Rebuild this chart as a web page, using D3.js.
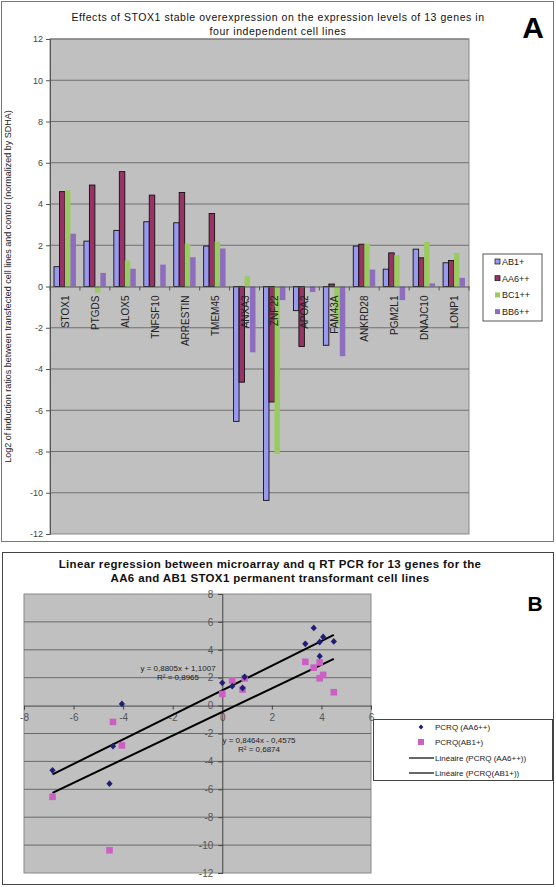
<!DOCTYPE html>
<html><head><meta charset="utf-8">
<script src="https://cdn.jsdelivr.net/npm/d3@7"></script>
<style>
html,body{margin:0;padding:0;background:#fff;}
svg{display:block;font-family:Arial,"Liberation Sans",sans-serif;}
</style></head>
<body>
<svg id="c" width="556" height="887"></svg>
<script>
// ---------- DATA ----------
const categories = ["STOX1","PTGDS","ALOX5","TNFSF10","ARRESTIN","TMEM45","ANXA3","ZNF22","APOA2","FAM43A","ANKRD28","PGM2L1","DNAJC10","LONP1"];
const seriesNames = ["AB1+","AA6++","BC1++","BB6++"];
const ab1 = [0.96, 2.2, 2.72, 3.14, 3.09, 1.96, -6.54, -10.37, -1.17, -2.85, 1.96, 0.84, 1.81, 1.15];
const aa6 = [4.6, 4.92, 5.57, 4.43, 4.56, 3.54, -4.64, -5.6, -2.91, 0.12, 2.05, 1.63, 1.39, 1.26];
const bc1 = [4.67, -0.3, 1.26, null, 2.08, 2.17, 0.5, -8.12, null, -1.84, 2.07, 1.52, 2.17, 1.63];
const bb6 = [2.56, 0.66, 0.86, 1.06, 1.42, 1.84, -3.19, -0.66, -0.27, -3.38, 0.82, -0.66, 0.15, 0.42];
const yTicksA = [-12,-10,-8,-6,-4,-2,0,2,4,6,8,10,12];

// scatter: microarray log ratio (x) vs qRT-PCR (y, same as AB1+/AA6++ above)
const microarray = [4.5, 4.07, 3.69, 3.35, 3.93, 3.93, -6.85, -4.55, -4.41, -4.05, 0.9, 0.0, 0.4, 0.82];
const scatterNames = ["PCRQ (AA6++)","PCRQ(AB1+)"];
const trendNames = ["Linéaire (PCRQ (AA6++))","Linéaire (PCRQ(AB1+))"];
const slopes = [0.8805, 0.8464];
const intercepts = [1.1007, -0.4575];
const eqTexts = [["y = 0,8805x + 1,1007","R² = 0,8965"],["y = 0,8464x - 0,4575","R² = 0,6874"]];
const xTicksB = [-8,-6,-4,-2,0,2,4,6];
const yTicksB = [-12,-10,-8,-6,-4,-2,0,2,4,6,8];

// ---------- STYLE ----------
const barColors = ["#9999F0","#993366","#9ACB5E","#8E6CBE"];
const barStroke = ["#111","#111",null,null];
const svg = d3.select("#c");

// ================= PANEL A =================
svg.append("rect").attr("x",1.5).attr("y",1.5).attr("width",552).attr("height",540)
  .attr("fill","none").attr("stroke","#777").attr("stroke-width",1);

const tA = svg.append("text").attr("x",278).attr("text-anchor","middle")
  .attr("font-size",10.5).attr("letter-spacing",0.55).attr("fill","#111");
tA.append("tspan").attr("x",278).attr("y",21).text("Effects of STOX1 stable overexpression on the expression levels of 13 genes in");
tA.append("tspan").attr("x",278).attr("y",35).text("four independent cell lines");
svg.append("text").attr("x",533).attr("y",38).attr("text-anchor","middle")
  .attr("font-size",30).attr("font-weight","bold").text("A");

const xA = d3.scaleBand().domain(categories).range([50,469]).padding(0);
const yA = d3.scaleLinear().domain([-12,12]).range([534,39]);
const xSub = d3.scaleBand().domain(seriesNames).range([4, xA.bandwidth()-4]).padding(0);

svg.append("rect").attr("x",50).attr("y",39).attr("width",419).attr("height",495)
  .attr("fill","#C0C0C0").attr("stroke","#888");
svg.append("g").selectAll("line").data(yTicksA.filter(d=>d!==-12 && d!==0)).join("line")
  .attr("x1",50).attr("x2",469).attr("y1",d=>yA(d)).attr("y2",d=>yA(d))
  .attr("stroke","#707070").attr("stroke-width",1);

const yAxisA = d3.axisLeft(yA).tickValues(yTicksA).tickSize(4).tickFormat(d3.format("d"));
const gyA = svg.append("g").attr("transform","translate(50,0)").call(yAxisA);
gyA.select(".domain").attr("stroke","#555");
gyA.selectAll(".tick line").attr("stroke","#555");
gyA.selectAll("text").attr("font-size",9).attr("fill","#444").attr("font-family","Arial,'Liberation Sans',sans-serif")
  .text(d=> d<0 ? "-"+Math.abs(d) : d);

const seriesData = [ab1, aa6, bc1, bb6];
seriesData.forEach((vals, si) => {
  svg.append("g").selectAll("rect").data(categories.map((c,i)=>({c, v: vals[i]})).filter(d=>d.v!==null)).join("rect")
    .attr("x", d => xA(d.c) + xSub(seriesNames[si]))
    .attr("width", xSub.bandwidth())
    .attr("y", d => yA(Math.max(0,d.v)))
    .attr("height", d => Math.abs(yA(d.v)-yA(0)))
    .attr("fill", barColors[si])
    .attr("stroke", barStroke[si] || "none")
    .attr("stroke-width", barStroke[si] ? 0.9 : 0);
});

// zero axis
const xAxisA = d3.axisBottom(xA).tickSize(0).tickFormat("");
const gxA = svg.append("g").attr("transform",`translate(0,${yA(0)})`).call(xAxisA);
gxA.select(".domain").attr("stroke","#555");
svg.append("g").selectAll("line").data(categories.concat(["_end"])).join("line")
  .attr("x1",(d,i)=> 50 + i*xA.step()).attr("x2",(d,i)=> 50 + i*xA.step())
  .attr("y1",yA(0)).attr("y2",yA(0)+4).attr("stroke","#555");
svg.append("g").selectAll("text").data(categories).join("text")
  .attr("transform", d => `translate(${xA(d)+xA.bandwidth()/2+4},${yA(0)+9}) rotate(-90)`)
  .attr("text-anchor","end").attr("font-size",10).attr("fill","#222").text(d=>d);

svg.append("text").attr("transform",`translate(11,${(39+534)/2}) rotate(-90)`)
  .attr("text-anchor","middle").attr("font-size",9).attr("fill","#222")
  .text("Log2 of induction ratios between transfected cell lines and control  (normalized by SDHA)");

// legend A
svg.append("rect").attr("x",483).attr("y",254).attr("width",59).attr("height",67)
  .attr("fill","#fff").attr("stroke","#555");
seriesNames.forEach((n,i)=>{
  const y = 262 + i*16.7;
  svg.append("rect").attr("x",495).attr("y",y-3).attr("width",5).attr("height",5)
    .attr("fill",barColors[i]).attr("stroke",barStroke[i]||"none").attr("stroke-width",0.7);
  svg.append("text").attr("x",502).attr("y",y+3).attr("font-size",9).attr("fill","#222").text(n);
});

// ================= PANEL B =================
svg.append("rect").attr("x",2.5).attr("y",552.5).attr("width",551).attr("height",332)
  .attr("fill","none").attr("stroke","#444").attr("stroke-width",1);
const tB = svg.append("text").attr("text-anchor","middle").attr("font-size",11.5)
  .attr("letter-spacing",0.35).attr("font-weight","bold").attr("fill","#111");
tB.append("tspan").attr("x",270).attr("y",568).text("Linear regression between microarray and q RT PCR for 13 genes for the");
tB.append("tspan").attr("x",270).attr("y",582).text("AA6 and AB1 STOX1 permanent transformant cell lines");
svg.append("text").attr("x",535).attr("y",611).attr("text-anchor","middle")
  .attr("font-size",21).attr("font-weight","bold").text("B");

const xB = d3.scaleLinear().domain([-8,6]).range([24,371]);
const yB = d3.scaleLinear().domain([-12,8]).range([873,594]);
svg.append("rect").attr("x",24).attr("y",594).attr("width",347).attr("height",279)
  .attr("fill","#C0C0C0").attr("stroke","#888");
svg.append("g").selectAll("line").data(yTicksB.filter(d=>d!==-12 && d!==8 && d!==0)).join("line")
  .attr("x1",24).attr("x2",371).attr("y1",d=>yB(d)).attr("y2",d=>yB(d))
  .attr("stroke","#6a6a6a").attr("stroke-width",1);

const gxB = svg.append("g").attr("transform",`translate(0,${yB(0)})`)
  .call(d3.axisBottom(xB).tickValues(xTicksB).tickSize(4).tickPadding(4));
gxB.select(".domain").attr("stroke","#444");
gxB.selectAll(".tick line").attr("stroke","#444");
gxB.selectAll("text").attr("font-size",10).attr("fill","#555").attr("font-family","Arial,'Liberation Sans',sans-serif")
  .text(d=> d<0 ? "-"+Math.abs(d) : d);
const gyB = svg.append("g").attr("transform",`translate(${xB(0)},0)`)
  .call(d3.axisLeft(yB).tickValues(yTicksB).tickSize(4).tickPadding(5));
gyB.select(".domain").attr("stroke","#444");
gyB.selectAll(".tick line").attr("stroke","#444");
gyB.selectAll("text").attr("font-size",10).attr("fill","#555").attr("font-family","Arial,'Liberation Sans',sans-serif")
  .text(d=> d<0 ? "-"+Math.abs(d) : d);

// trend lines
const xMin = d3.min(microarray), xMax = d3.max(microarray);
slopes.forEach((m,i)=>{
  svg.append("line").attr("x1",xB(xMin)).attr("y1",yB(m*xMin+intercepts[i]))
    .attr("x2",xB(xMax)).attr("y2",yB(m*xMax+intercepts[i]))
    .attr("stroke","#000").attr("stroke-width",2);
});

// points
const ptsAA6 = microarray.map((x,i)=>({x, y: aa6[i]}));
const ptsAB1 = microarray.map((x,i)=>({x, y: ab1[i]}));
svg.append("g").selectAll("rect").data(ptsAB1).join("rect")
  .attr("x",d=>xB(d.x)-3.3).attr("y",d=>yB(d.y)-3.3).attr("width",6.6).attr("height",6.6)
  .attr("fill","#CC5FC4");
svg.append("g").selectAll("path").data(ptsAA6).join("path")
  .attr("transform",d=>`translate(${xB(d.x)},${yB(d.y)})`)
  .attr("d","M0,-3.4L3.1,0L0,3.4L-3.1,0Z").attr("fill","#1E1E78");

// equations
const eqPos = [[178,668,676.5],[259,740,748.5]];
eqTexts.forEach((t,i)=>{
  svg.append("text").attr("x",eqPos[i][0]).attr("y",eqPos[i][1]+3).attr("text-anchor","middle")
    .attr("font-size",8).attr("fill","#222").text(t[0]);
  svg.append("text").attr("x",eqPos[i][0]).attr("y",eqPos[i][2]+3).attr("text-anchor","middle")
    .attr("font-size",8).attr("fill","#222").text(t[1]);
});

// legend B
svg.append("rect").attr("x",373.5).attr("y",719.5).attr("width",179).attr("height",61)
  .attr("fill","#fff").attr("stroke","#444");
const legY = [727,742,758,773];
svg.append("path").attr("transform",`translate(421,${legY[0]})`).attr("d","M0,-2.6L2.4,0L0,2.6L-2.4,0Z").attr("fill","#1E1E78");
svg.append("rect").attr("x",418).attr("y",legY[1]-3).attr("width",6).attr("height",6).attr("fill","#CC5FC4");
[2,3].forEach(k=>{
  svg.append("line").attr("x1",409).attr("x2",434).attr("y1",legY[k]).attr("y2",legY[k]).attr("stroke","#000").attr("stroke-width",1.2);
});
const legLabels = scatterNames.concat(trendNames);
legLabels.forEach((n,i)=>{
  svg.append("text").attr("x",435).attr("y",legY[i]+3).attr("font-size",8)
    .attr("font-family","'Liberation Sans Narrow','Arial Narrow',Arial,sans-serif").attr("fill","#222").text(n);
});
</script>
</body></html>
